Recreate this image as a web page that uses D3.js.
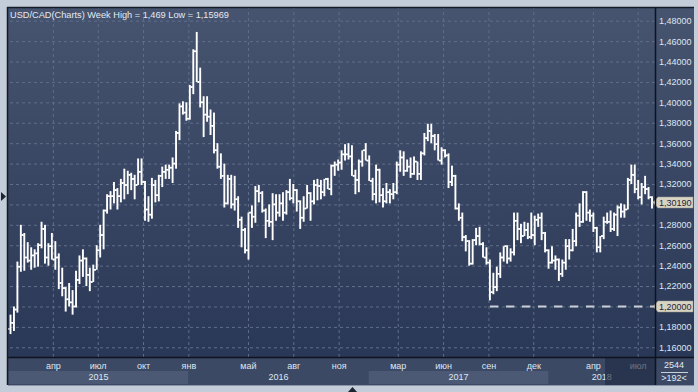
<!DOCTYPE html>
<html><head><meta charset="utf-8">
<script src="https://cdn.jsdelivr.net/npm/d3@7"></script>
<style>
html,body{margin:0;padding:0;background:#c3ccd9;overflow:hidden}
svg{display:block}
text{font-family:"Liberation Sans",Arial,sans-serif}
</style>
</head><body>
<svg id="c" width="698" height="392"></svg>
<script>
// ---- DATA (weekly OHLC, USD/CAD, weeks starting Mon 5 Jan 2015) ----
const open = [
 1.1780,1.1840,1.1970,1.2390,1.2700,1.2480,1.2450,1.2500,1.2520,1.2600,1.2760,1.2480,1.2590,1.2460,1.2480,1.2230,1.2180,1.2070,1.2040,1.2000,1.2260,1.2450,1.2470,1.2310,1.2240,1.2360,1.2550,1.2700,1.2940,1.3080,1.3080,1.3140,1.3080,1.3210,1.3190,1.3290,1.3250,1.3190,1.3320,1.3220,1.2950,1.2900,1.3190,1.3090,1.3280,1.3320,1.3340,1.3360,1.3400,1.3700,1.3960,1.3900,
 1.3840,1.4150,1.4500,1.4200,1.4000,1.3880,1.3860,1.3770,1.3530,1.3370,1.3280,1.3010,1.3250,1.3000,1.3050,1.2850,1.2750,1.2550,1.2920,1.2880,1.3130,1.3110,1.2940,1.2840,1.2830,1.3000,1.2920,1.3010,1.2920,1.3120,1.3060,1.3140,1.3030,1.2870,1.2960,1.3110,1.3030,1.3190,1.3180,1.3120,1.3250,1.3150,1.3380,1.3390,1.3410,1.3490,1.3490,1.3470,1.3280,1.3240,1.3420,1.3530,
 1.3430,1.3230,1.3100,1.3340,1.3090,1.3030,1.3120,1.3100,1.3120,1.3390,1.3460,1.3330,1.3370,1.3300,1.3420,1.3300,1.3500,1.3650,1.3720,1.3670,1.3590,1.3430,1.3530,1.3480,1.3220,1.3280,1.2960,1.2870,1.2680,1.2640,1.2420,1.2650,1.2690,1.2610,1.2480,1.2430,1.2140,1.2190,1.2320,1.2480,1.2590,1.2470,1.2530,1.2840,1.2760,1.2690,1.2750,1.2680,1.2700,1.2850,1.2870,1.2720,
 1.2550,1.2430,1.2450,1.2460,1.2320,1.2430,1.2590,1.2550,1.2640,1.2890,1.2830,1.3120,1.2920,1.2890,1.2770,1.2580,1.2690,1.2830,1.2830,1.2760,1.2900,1.2970,1.2930,1.2950,1.3240,1.3290,1.3150,1.3070,1.3170,1.3150,1.3070
];
const high = [
 1.1920,1.2000,1.2440,1.2800,1.2720,1.2630,1.2580,1.2560,1.2620,1.2830,1.2800,1.2620,1.2720,1.2640,1.2520,1.2380,1.2190,1.2230,1.2160,1.2350,1.2500,1.2560,1.2480,1.2380,1.2410,1.2600,1.2800,1.2950,1.3100,1.3130,1.3220,1.3160,1.3250,1.3350,1.3330,1.3310,1.3290,1.3450,1.3450,1.3230,1.3080,1.3260,1.3240,1.3290,1.3370,1.3390,1.3390,1.3460,1.3720,1.3990,1.4010,1.4000,
 1.4170,1.4520,1.4690,1.4340,1.4060,1.4060,1.3930,1.3900,1.3600,1.3500,1.3400,1.3290,1.3290,1.3280,1.3080,1.2880,1.2770,1.2920,1.2990,1.3180,1.3190,1.3130,1.2960,1.3000,1.3110,1.3100,1.3100,1.3120,1.3140,1.3250,1.3200,1.3150,1.3040,1.3080,1.3190,1.3120,1.3240,1.3250,1.3240,1.3250,1.3260,1.3390,1.3420,1.3440,1.3530,1.3590,1.3600,1.3580,1.3340,1.3440,1.3530,1.3600,
 1.3480,1.3260,1.3390,1.3350,1.3160,1.3210,1.3150,1.3210,1.3420,1.3530,1.3520,1.3440,1.3460,1.3470,1.3420,1.3520,1.3700,1.3790,1.3790,1.3690,1.3690,1.3560,1.3540,1.3500,1.3380,1.3290,1.3010,1.2920,1.2700,1.2650,1.2660,1.2770,1.2780,1.2630,1.2580,1.2460,1.2330,1.2390,1.2530,1.2590,1.2600,1.2570,1.2920,1.2920,1.2810,1.2830,1.2820,1.2920,1.2890,1.2910,1.2920,1.2730,
 1.2560,1.2590,1.2500,1.2470,1.2460,1.2660,1.2660,1.2760,1.2920,1.3010,1.3130,1.3130,1.2950,1.2920,1.2780,1.2690,1.2880,1.2920,1.2940,1.2920,1.2990,1.3010,1.3000,1.3260,1.3390,1.3390,1.3240,1.3210,1.3280,1.3170,1.3080
];
const low = [
 1.1730,1.1760,1.1940,1.2340,1.2350,1.2430,1.2360,1.2380,1.2390,1.2570,1.2420,1.2400,1.2460,1.2360,1.2170,1.2100,1.1950,1.2000,1.1920,1.1990,1.2220,1.2290,1.2200,1.2150,1.2240,1.2360,1.2480,1.2560,1.2910,1.2950,1.3010,1.2950,1.3020,1.3050,1.3100,1.3140,1.3050,1.3190,1.3190,1.2840,1.2830,1.2860,1.3020,1.3030,1.3170,1.3250,1.3250,1.3210,1.3350,1.3630,1.3880,1.3820,
 1.3830,1.4080,1.4200,1.3950,1.3660,1.3810,1.3680,1.3500,1.3350,1.3250,1.2970,1.3000,1.2960,1.2940,1.2770,1.2580,1.2520,1.2460,1.2770,1.2820,1.3020,1.2920,1.2670,1.2780,1.2650,1.2840,1.2880,1.2840,1.2900,1.3040,1.3010,1.2930,1.2760,1.2830,1.2960,1.2840,1.3000,1.3040,1.3050,1.3080,1.3150,1.3090,1.3280,1.3330,1.3340,1.3430,1.3440,1.3280,1.3100,1.3120,1.3370,1.3430,
 1.3230,1.3040,1.3010,1.3020,1.2970,1.3010,1.3010,1.3050,1.3100,1.3320,1.3280,1.3320,1.3260,1.3290,1.3240,1.3240,1.3480,1.3620,1.3600,1.3530,1.3430,1.3390,1.3460,1.3160,1.3180,1.2950,1.2840,1.2640,1.2540,1.2400,1.2410,1.2600,1.2600,1.2480,1.2410,1.2060,1.2120,1.2150,1.2280,1.2440,1.2420,1.2440,1.2500,1.2650,1.2620,1.2690,1.2660,1.2660,1.2600,1.2780,1.2650,1.2530,
 1.2370,1.2420,1.2360,1.2250,1.2290,1.2360,1.2460,1.2540,1.2590,1.2780,1.2820,1.2840,1.2830,1.2730,1.2530,1.2530,1.2660,1.2810,1.2730,1.2740,1.2690,1.2870,1.2870,1.2950,1.3200,1.3110,1.3050,1.3000,1.3100,1.3050,1.2960
];
const close = [
 1.1840,1.1970,1.2390,1.2700,1.2480,1.2450,1.2500,1.2520,1.2600,1.2760,1.2480,1.2590,1.2460,1.2480,1.2230,1.2180,1.2070,1.2040,1.2000,1.2260,1.2450,1.2470,1.2310,1.2240,1.2360,1.2550,1.2700,1.2940,1.3080,1.3080,1.3140,1.3080,1.3210,1.3190,1.3290,1.3250,1.3190,1.3320,1.3220,1.2950,1.2900,1.3190,1.3090,1.3280,1.3320,1.3340,1.3360,1.3400,1.3700,1.3960,1.3900,1.3840,
 1.4150,1.4500,1.4200,1.4000,1.3880,1.3860,1.3770,1.3530,1.3370,1.3280,1.3010,1.3250,1.3000,1.3050,1.2850,1.2750,1.2550,1.2920,1.2880,1.3130,1.3110,1.2940,1.2840,1.2830,1.3000,1.2920,1.3010,1.2920,1.3120,1.3060,1.3140,1.3030,1.2870,1.2960,1.3110,1.3030,1.3190,1.3180,1.3120,1.3250,1.3150,1.3380,1.3390,1.3410,1.3490,1.3490,1.3470,1.3280,1.3240,1.3420,1.3530,1.3430,
 1.3230,1.3100,1.3340,1.3090,1.3030,1.3120,1.3100,1.3120,1.3390,1.3460,1.3330,1.3370,1.3300,1.3420,1.3300,1.3500,1.3650,1.3720,1.3670,1.3590,1.3430,1.3530,1.3480,1.3220,1.3280,1.2960,1.2870,1.2680,1.2640,1.2420,1.2650,1.2690,1.2610,1.2480,1.2430,1.2140,1.2190,1.2320,1.2480,1.2590,1.2470,1.2530,1.2840,1.2760,1.2690,1.2750,1.2680,1.2700,1.2850,1.2870,1.2720,1.2550,
 1.2430,1.2450,1.2460,1.2320,1.2430,1.2590,1.2550,1.2640,1.2890,1.2830,1.3120,1.2920,1.2890,1.2770,1.2580,1.2690,1.2830,1.2830,1.2760,1.2900,1.2970,1.2930,1.2950,1.3240,1.3290,1.3150,1.3070,1.3170,1.3150,1.3070,1.3019
];
const yTickValues = [1.16,1.18,1.20,1.22,1.24,1.26,1.28,1.30,1.32,1.34,1.36,1.38,1.40,1.42,1.44,1.46,1.48];
const monthTickDates = ["2015-04-01","2015-07-01","2015-10-01","2016-01-01","2016-05-01","2016-08-01","2016-11-01","2017-03-01","2017-06-01","2017-09-01","2017-12-01","2018-04-01","2018-07-01"];
const monthLabels = ["апр","июл","окт","янв","май","авг","ноя","мар","июн","сен","дек","апр","июл"];
const years = [2015,2016,2017,2018];
const titleText = "USD/CAD(Charts) Week High = 1,469 Low = 1,15969";
const lastPrice = 1.3019, levelPrice = 1.20, levelStart = "2017-09-04";
const barCount = "2544", visibleCount = ">192<";

// ---- LAYOUT ----
const L=8, T=8, R=655, B=357, AX=694, AB=385;
const svg = d3.select('#c');
const parse = d3.timeParse("%Y-%m-%d");
const firstWeek = new Date(2015,0,5);
const n = Math.min(open.length, high.length, low.length, close.length);
const bars = d3.range(n).map(i => ({date: d3.timeDay.offset(firstWeek, 7*i), o: open[i], h: high[i], l: low[i], c: close[i]}));
const x = d3.scaleTime().domain([firstWeek, bars[n-1].date]).range([10.5, 652]);
const y = d3.scaleLinear().domain([1.16, 1.48]).range([347.3, 20.7]);
const monthDates = monthTickDates.map(parse);

const defs = svg.append('defs');
const g1 = defs.append('linearGradient').attr('id','bg').attr('x1',0).attr('y1',0).attr('x2',0).attr('y2',1);
g1.append('stop').attr('offset','0%').attr('stop-color','#46546f');
g1.append('stop').attr('offset','100%').attr('stop-color','#2a3857');
defs.append('clipPath').attr('id','clip').append('rect').attr('x',L).attr('y',T).attr('width',R-L).attr('height',B-T);

// backgrounds
svg.append('rect').attr('x',L).attr('y',T).attr('width',AX-L).attr('height',B-T).attr('fill','url(#bg)');
svg.append('rect').attr('x',L).attr('y',B).attr('width',AX-L).attr('height',AB-B).attr('fill','#3b4965');

// year bands
const yearRow = svg.append('g');
years.forEach((yr, i) => {
  const x0 = Math.max(L, x(new Date(yr,0,1)));
  const x1 = Math.min(R, x(new Date(yr+1,0,1)));
  yearRow.append('rect').attr('x',x0).attr('y',371).attr('width',x1-x0).attr('height',13)
    .attr('fill', i%2===0 ? '#4b5975' : '#3b4965');
  yearRow.append('text').attr('x',(x0+x1)/2).attr('y',379.5).attr('text-anchor','middle')
    .attr('font-size','9px').attr('fill','#dfe6f0').text(yr);
});

// gridlines
const gridStyle = s => s.attr('stroke','#5f6e8a').attr('stroke-dasharray','3,3').attr('stroke-width',1);
const hg = svg.append('g').attr('transform',`translate(${R},0)`)
  .call(d3.axisLeft(y).tickValues(yTickValues).tickSize(R-L).tickFormat(''));
hg.select('.domain').remove();
hg.selectAll('line').call(gridStyle);
const vg = svg.append('g').attr('transform',`translate(0,${B})`)
  .call(d3.axisTop(x).tickValues(monthDates).tickSize(B-T).tickFormat(''));
vg.select('.domain').remove();
vg.selectAll('line').call(gridStyle);

// OHLC bars
const plot = svg.append('g').attr('clip-path','url(#clip)');
const bg = plot.selectAll('g.bar').data(bars).join('g').attr('class','bar').attr('fill','#ffffff');
bg.append('rect').attr('x',d=>x(d.date)-0.95).attr('width',1.9)
  .attr('y',d=>y(d.h)).attr('height',d=>Math.max(1,y(d.l)-y(d.h)));
bg.append('rect').attr('x',d=>x(d.date)-2.8).attr('width',1.9)
  .attr('y',d=>y(d.o)-0.75).attr('height',1.5);
bg.append('rect').attr('x',d=>x(d.date)+0.9).attr('width',1.9)
  .attr('y',d=>y(d.c)-0.75).attr('height',1.5);

// level line at 1.20
plot.append('line').attr('x1',x(parse(levelStart))).attr('x2',R).attr('y1',y(levelPrice)).attr('y2',y(levelPrice))
  .attr('stroke','#c9ced8').attr('stroke-width',2).attr('stroke-dasharray','8.5,7.5');

// title
svg.append('text').attr('x',10).attr('y',18).attr('font-size','9.6px').attr('fill','#e4e9f1')
  .attr('textLength',219).attr('lengthAdjust','spacingAndGlyphs').text(titleText);

// right axis labels (labels hidden behind price markers are skipped)
const markers = [lastPrice, levelPrice];
const visibleTicks = yTickValues.filter(v => markers.every(m => Math.abs(y(v)-y(m)) > 8));
const fmt = d => d.toFixed(5).replace('.', ',');
const ra = svg.append('g').attr('transform',`translate(${R},0)`)
  .call(d3.axisRight(y).tickValues(visibleTicks).tickSize(0).tickPadding(4).tickFormat(fmt));
ra.select('.domain').remove();
ra.selectAll('text').attr('font-size','9px').attr('fill','#dfe6f0').attr('font-family','"Liberation Sans",Arial,sans-serif');

// bottom month labels
const ba = svg.append('g').attr('transform',`translate(0,${B})`)
  .call(d3.axisBottom(x).tickValues(monthDates).tickSize(0).tickFormat((d,i)=>monthLabels[i]));
ba.select('.domain').remove();
ba.selectAll('text').attr('y',12).attr('dy',0).attr('font-size','9px').attr('fill','#dfe6f0')
  .attr('font-family','"Liberation Sans",Arial,sans-serif');

// dark overlay at bottom right of time axis
svg.append('rect').attr('x',605).attr('y',B+1).attr('width',R-605).attr('height',AB-B-1)
  .attr('fill','#1f2840').attr('opacity',0.62);

// price markers
function marker(v, label){
  const yy = y(v);
  svg.append('path').attr('d',`M653,${yy} L658,${yy-5.5} L693,${yy-5.5} L693,${yy+5.5} L658,${yy+5.5} Z`)
    .attr('fill','#d8d4c4').attr('stroke','#9a9a90').attr('stroke-width',0.5);
  svg.append('text').attr('x',659).attr('y',yy+3.3).attr('font-size','9px').attr('fill','#1d2432').text(label);
}
markers.forEach(m => marker(m, fmt(m)));

// frame lines
svg.append('line').attr('x1',L).attr('x2',AX).attr('y1',B+0.5).attr('y2',B+0.5).attr('stroke','#0e131d').attr('stroke-width',1.5);
svg.append('line').attr('x1',R+0.5).attr('x2',R+0.5).attr('y1',T).attr('y2',AB).attr('stroke','#0e131d').attr('stroke-width',1.5);
svg.append('line').attr('x1',L-0.5).attr('x2',L-0.5).attr('y1',T-1).attr('y2',AB).attr('stroke','#141a26').attr('stroke-width',1.5);
svg.append('line').attr('x1',L-1).attr('x2',AX).attr('y1',T-0.5).attr('y2',T-0.5).attr('stroke','#141a26').attr('stroke-width',1.5);
svg.append('line').attr('x1',L).attr('x2',AX).attr('y1',AB+0.5).attr('y2',AB+0.5).attr('stroke','#8a95a8').attr('stroke-width',1);

// bottom-right info cell
svg.append('text').attr('x',674).attr('y',367.5).attr('text-anchor','middle').attr('font-size','9px').attr('fill','#e4e9f1').text(barCount);
svg.append('line').attr('x1',661).attr('x2',688).attr('y1',372.5).attr('y2',372.5).attr('stroke','#c8d0dc').attr('stroke-width',1);
svg.append('text').attr('x',674).attr('y',381).attr('text-anchor','middle').attr('font-size','9px').attr('fill','#e4e9f1').text(visibleCount);

// small navigation triangles
svg.append('path').attr('d','M1,192 L6,196.5 L1,201 Z').attr('fill','#1c2433');
svg.append('path').attr('d','M348,392 L352.5,387 L357,392 Z').attr('fill','#1c2433');
</script>
</body></html>
